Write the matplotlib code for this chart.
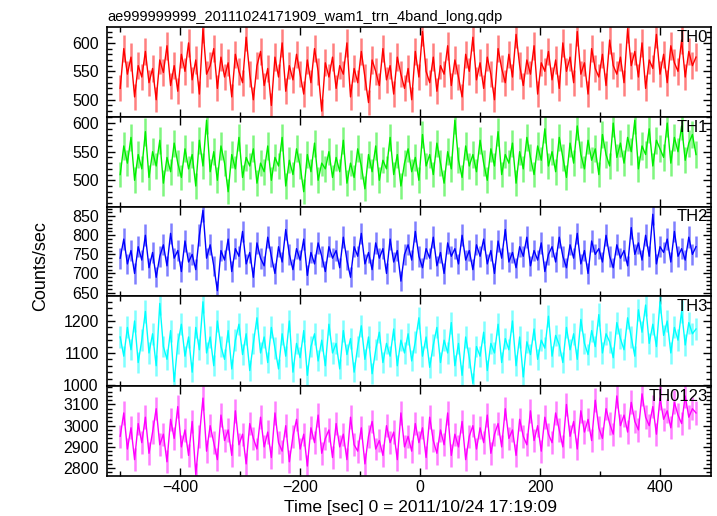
import numpy as np
import matplotlib
matplotlib.use("Agg")
import matplotlib.pyplot as plt
from matplotlib.ticker import MultipleLocator

plt.rcParams["font.family"] = ["Liberation Sans", "DejaVu Sans"]
plt.rcParams["font.size"] = 11

title = "ae999999999_20111024171909_wam1_trn_4band_long.qdp"
xlabel = "Time [sec] 0 = 2011/10/24 17:19:09"
ylabel = "Counts/sec"

# bin centres (sec), 6 s spacing
t_start = -500
t_step = 6

bands = ["TH0", "TH1", "TH2", "TH3", "TH0123"]
colors = ["#ff0000", "#00ee00", "#0000ff", "#00ffff", "#ff00ff"]

th0 = [520, 590, 545, 575, 505, 560, 540, 585, 530, 555, 500, 570, 548, 595, 525, 560, 515, 580, 550, 600,
       535, 570, 510, 625, 545, 560, 590, 520, 575, 540, 565, 505, 580, 550, 530, 610, 545, 500, 560, 585,
       525, 555, 490, 575, 540, 600, 515, 560, 535, 580, 545, 510, 570, 530, 590, 550, 480, 565, 540, 575,
       520, 560, 545, 600, 505, 555, 530, 585, 540, 495, 570, 550, 525, 590, 535, 560, 510, 575, 545, 520,
       555, 500, 585, 540, 620, 550, 530, 575, 515, 560, 545, 595, 525, 570, 540, 505, 580, 550, 610, 535,
       565, 520, 575, 545, 500, 590, 555, 530, 580, 540, 615, 560, 525, 570, 545, 595, 510, 565, 550, 585,
       535, 570, 520, 600, 550, 575, 530, 620, 545, 565, 510, 590, 555, 540, 580, 525, 605, 560, 545, 575,
       530, 625, 560, 585, 540, 600, 520, 570, 555, 615, 545, 580, 530, 595, 565, 550, 605, 540, 585, 560, 575]

th1 = [510, 560, 530, 575, 500, 545, 520, 585, 505, 550, 525, 570, 495, 540, 515, 565, 530, 505, 555, 520,
       545, 490, 570, 525, 605, 515, 550, 500, 560, 530, 480, 545, 520, 575, 505, 540, 525, 555, 495, 530,
       515, 560, 500, 540, 525, 575, 490, 535, 510, 555, 525, 480, 545, 515, 565, 500, 530, 520, 550, 505,
       540, 515, 570, 495, 530, 505, 555, 525, 485, 545, 515, 560, 500, 535, 520, 575, 510, 545, 490, 530,
       555, 515, 540, 500, 580, 525, 545, 510, 565, 530, 495, 550, 520, 605, 535, 505, 560, 525, 545, 515,
       570, 530, 500, 555, 525, 585, 510, 545, 530, 565, 495, 550, 520, 575, 540, 510, 560, 535, 590, 525,
       550, 515, 575, 540, 505, 565, 530, 595, 545, 520, 570, 535, 555, 510, 580, 545, 525, 600, 540, 565,
       530, 575, 550, 605, 520, 560, 545, 590, 525, 570, 555, 540, 600, 530, 575, 550, 595, 535, 565, 580, 545]

th2 = [740, 790, 725, 760, 700, 770, 735, 800, 715, 755, 690, 745, 775, 720, 805, 740, 760, 705, 785, 730,
       750, 710, 800, 865, 740, 775, 720, 655, 760, 735, 790, 705, 765, 745, 810, 725, 755, 690, 780, 740,
       720, 795, 745, 700, 770, 730, 815, 750, 710, 765, 735, 790, 695, 755, 725, 780, 745, 705, 770, 740,
       760, 715, 795, 735, 690, 770, 745, 805, 725, 755, 710, 780, 740, 765, 700, 790, 730, 760, 680, 750,
       775, 735, 810, 745, 715, 765, 740, 795, 720, 755, 700, 780, 745, 765, 725, 800, 735, 760, 710, 775,
       745, 790, 725, 760, 700, 785, 740, 815, 730, 755, 715, 770, 745, 795, 720, 760, 735, 780, 705, 750,
       770, 730, 795, 745, 715, 775, 740, 805, 725, 760, 700, 785, 750, 765, 730, 800, 745, 715, 775, 740,
       760, 720, 820, 750, 780, 735, 800, 745, 855, 725, 770, 755, 790, 730, 810, 745, 765, 735, 795, 750, 770]

th3 = [1150, 1090, 1180, 1110, 1200, 1070, 1140, 1230, 1100, 1160, 1060, 1255, 1120, 1080, 1170, 1010, 1130, 1190, 1090, 1150,
       1040, 1180, 1110, 1260, 1100, 1150, 1060, 1200, 1120, 1080, 1170, 1050, 1140, 1190, 1095, 1160, 1045, 1130, 1210, 1100,
       1150, 1070, 1180, 1115, 1050, 1160, 1090, 1200, 1040, 1130, 1085, 1170, 1030, 1120, 1160, 1075, 1140, 1060, 1190, 1100,
       1130, 1050, 1170, 1095, 1145, 1040, 1120, 1185, 1080, 1150, 1035, 1110, 1165, 1070, 1130, 1090, 1175, 1060, 1140, 1100,
       1160, 1075, 1135, 1210, 1090, 1150, 1055, 1125, 1180, 1070, 1140, 1100, 1195, 1060, 1130, 1030, 1150, 1085, 1005, 1120,
       1090, 1165, 1045, 1130, 1100, 1190, 1070, 1145, 1110, 1200, 1060, 1150, 1025, 1135, 1095, 1175, 1080, 1140, 1115, 1215,
       1090, 1155, 1125, 1070, 1180, 1110, 1160, 1080, 1205, 1130, 1095, 1170, 1120, 1220, 1100, 1160, 1135, 1085, 1195, 1145,
       1110, 1210, 1150, 1090, 1235, 1165, 1250, 1130, 1190, 1120, 1260, 1155, 1200, 1100, 1180, 1140, 1230, 1125, 1195, 1160, 1175]

th0123 = [2950, 3060, 2890, 2990, 2840, 3010, 2920, 3040, 2870, 2970, 3080, 2910, 2960, 2830, 3030, 2940, 3090, 2900, 2980, 2860,
          3020, 2770, 2950, 3130, 2880, 3000, 2920, 2840, 3050, 2930, 2980, 2860, 3070, 2910, 2960, 2820, 3010, 2940, 2890, 3040,
          2900, 2970, 2850, 3060, 2920, 2880, 3000, 2830, 2950, 3030, 2890, 2960, 2810, 2990, 2920, 3050, 2870, 2940, 2980, 2850,
          3010, 2900, 2960, 2840, 3040, 2910, 2880, 2990, 2820, 2950, 3020, 2890, 2930, 2860, 3000, 2920, 2970, 2840, 3060, 2900,
          2950, 2880, 3010, 2920, 2990, 2850, 3040, 2930, 2870, 2980, 2910, 3060, 2860, 2960, 2900, 3020, 2840, 2950, 3000, 2890,
          2990, 2920, 3050, 2870, 2960, 3010, 2900, 3080, 2940, 2980, 2860, 3030, 2950, 2910, 3070, 2930, 3000, 2880, 3040, 2960,
          2920, 3060, 2980, 2900, 3100, 2950, 3020, 2890, 3070, 2970, 3030, 2930, 3120, 2990, 2940, 3080, 3010, 2960, 3140, 3000,
          3050, 2970, 3110, 3020, 2980, 3150, 3040, 3000, 3090, 2960, 3130, 3030, 3070, 2990, 3110, 3050, 3010, 3140, 3040, 3080, 3060]

series = [th0, th1, th2, th3, th0123]
ylims = [(470, 628), (454, 611), (640, 875), (996, 1277), (2763, 3186)]
ymajor = [50, 50, 50, 100, 100]
yminor = [10, 10, 10, 20, 20]

fig = plt.figure(figsize=(7.17, 5.16), dpi=100)
left, right = 107 / 717, 711 / 717
top, bottom = 1 - 27 / 516, 1 - 476 / 516
h = (top - bottom) / 5

for i in range(5):
    ax = fig.add_axes([left, top - (i + 1) * h, right - left, h])
    y = np.array(series[i], dtype=float)
    t = t_start + t_step * np.arange(len(y))
    err = np.sqrt(y)
    ax.vlines(t, y - err, y + err, color=colors[i], alpha=0.5, lw=1.8)
    ax.plot(t, y, color=colors[i], lw=1.0)
    ax.set_xlim(-522, 485)
    ax.set_ylim(*ylims[i])
    ax.yaxis.set_major_locator(MultipleLocator(ymajor[i]))
    ax.yaxis.set_minor_locator(MultipleLocator(yminor[i]))
    ax.xaxis.set_major_locator(MultipleLocator(200))
    ax.xaxis.set_minor_locator(MultipleLocator(100))
    ax.tick_params(which="both", direction="in", top=True, right=True, labelsize=11.5, width=1)
    ax.tick_params(which="major", length=6)
    ax.tick_params(axis="y", which="major", pad=6)
    ax.tick_params(axis="x", which="major", pad=3)
    ax.tick_params(which="minor", length=3.5)
    for s in ax.spines.values():
        s.set_linewidth(1.2)
    if i < 4:
        ax.tick_params(labelbottom=False)
    ax.text(0.995, 0.885, bands[i], transform=ax.transAxes, ha="right", va="center", fontsize=12)

fig.text(left, 1 - 21 / 516, title, ha="left", va="baseline", fontsize=10.5)
fig.text(420 / 717, 1 - 512 / 516, xlabel, ha="center", va="baseline", fontsize=12.5)
fig.text(41 / 717, 0.485, ylabel, rotation=90, ha="center", va="center", fontsize=13)

fig.savefig("out.png", dpi=100)
